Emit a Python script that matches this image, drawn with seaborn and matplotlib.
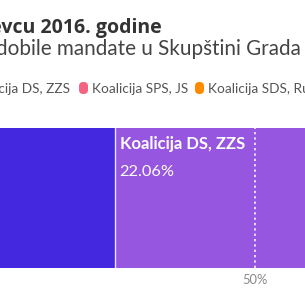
import pandas as pd
import seaborn as sns
from matplotlib import pyplot as plt
from matplotlib import transforms
from matplotlib.patches import FancyBboxPatch

# visible part of a stacked 100% bar (Kragujevac 2016)
stranke = ["Koalicija SNS", "Koalicija DS, ZZS"]
procenti = [36.0, 22.06]
boje = ["#4328e0", "#9656e0"]

legenda_nazivi = ["Koalicija DS, ZZS", "Koalicija SPS, JS", "Koalicija SDS, Rusi"]
legenda_boje = ["#9656e0", "#f2647f", "#ff8a00"]

sns.set_theme(style="white")
plt.rcParams["font.family"] = ["Lato", "DejaVu Sans"]

W, H = 305, 297
fig = plt.figure(figsize=(W / 100, H / 100), dpi=100)

# axis from 0% to 100% is wider than the visible crop
x0_px, x100_px = -245, 755
bar_top, bar_bot = 128, 268
ax = fig.add_axes([x0_px / W, 1 - bar_bot / H, (x100_px - x0_px) / W, (bar_bot - bar_top) / H])

df = pd.DataFrame({"stranka": stranke, "procenat": procenti, "boja": boje})
df["kraj"] = df["procenat"].cumsum()
df["pocetak"] = df["kraj"] - df["procenat"]
df["red"] = "2016"

# stacked: draw cumulative bars from the largest down
for _, r in df.iloc[::-1].iterrows():
    sns.barplot(data=pd.DataFrame([r]), x="kraj", y="red", orient="h",
                color=r["boja"], saturation=1, width=1, linewidth=0, ax=ax)

for k in df["kraj"].iloc[:-1]:
    ax.axvline(k, color="white", lw=1, alpha=0.85)

ax.axvline(50, color="white", lw=1.1, linestyle=(0, (1.5, 2)))

# segment labels (x in data, y in figure pixels)
tr = transforms.blended_transform_factory(ax.transData, fig.transFigure)
for _, r in df.iterrows():
    ax.text(r["pocetak"] + 0.45, 1 - 148.5 / H, r["stranka"], color="white", transform=tr,
            fontsize=12, fontweight="bold", va="baseline", ha="left")
    ax.text(r["pocetak"] + 0.45, 1 - 175.5 / H, f"{r['procenat']:.2f}%", color="white",
            transform=tr, fontsize=11.8, va="baseline", ha="left")

ax.set_xlim(0, 100)
ax.set_ylim(0.5, -0.5)
ax.set_xticks([0, 50, 100])
ax.set_xticklabels(["0%", "50%", "100%"], color="#888888", fontsize=9.3)
ax.tick_params(axis="x", length=0, pad=4.5)
ax.set_yticks([])
ax.set_xlabel("")
ax.set_ylabel("")
sns.despine(ax=ax, left=True, bottom=True)

# title, subtitle
fig.text(162 / W, 1 - 32.7 / H, "Rezultati izbora u Kragujevcu 2016. godine", ha="right",
         va="baseline", fontsize=14, fontweight="bold", color="#333333",
         family=["Open Sans", "DejaVu Sans"])
fig.text(-4 / W, 1 - 55 / H, "dobile mandate u Skupštini Grada Kragujevca", ha="left",
         va="baseline", fontsize=14.9, color="#444444")

# legend
fig.text(70 / W, 1 - 93 / H, legenda_nazivi[0], ha="right", va="baseline", fontsize=9.8, color="#555555")
pozicije = [(79, 92), (195, 208)]
for (mx, tx), naziv, boja in zip(pozicije, legenda_nazivi[1:], legenda_boje[1:]):
    fig.patches.append(FancyBboxPatch((mx / W, 1 - 94 / H), 9 / W, 12 / H,
                                      boxstyle="round,pad=0,rounding_size=0.014",
                                      transform=fig.transFigure, facecolor=boja, edgecolor="none"))
    fig.text(tx / W, 1 - 93 / H, naziv, ha="left", va="baseline", fontsize=9.8, color="#555555")

fig.savefig("out.png", dpi=100)
